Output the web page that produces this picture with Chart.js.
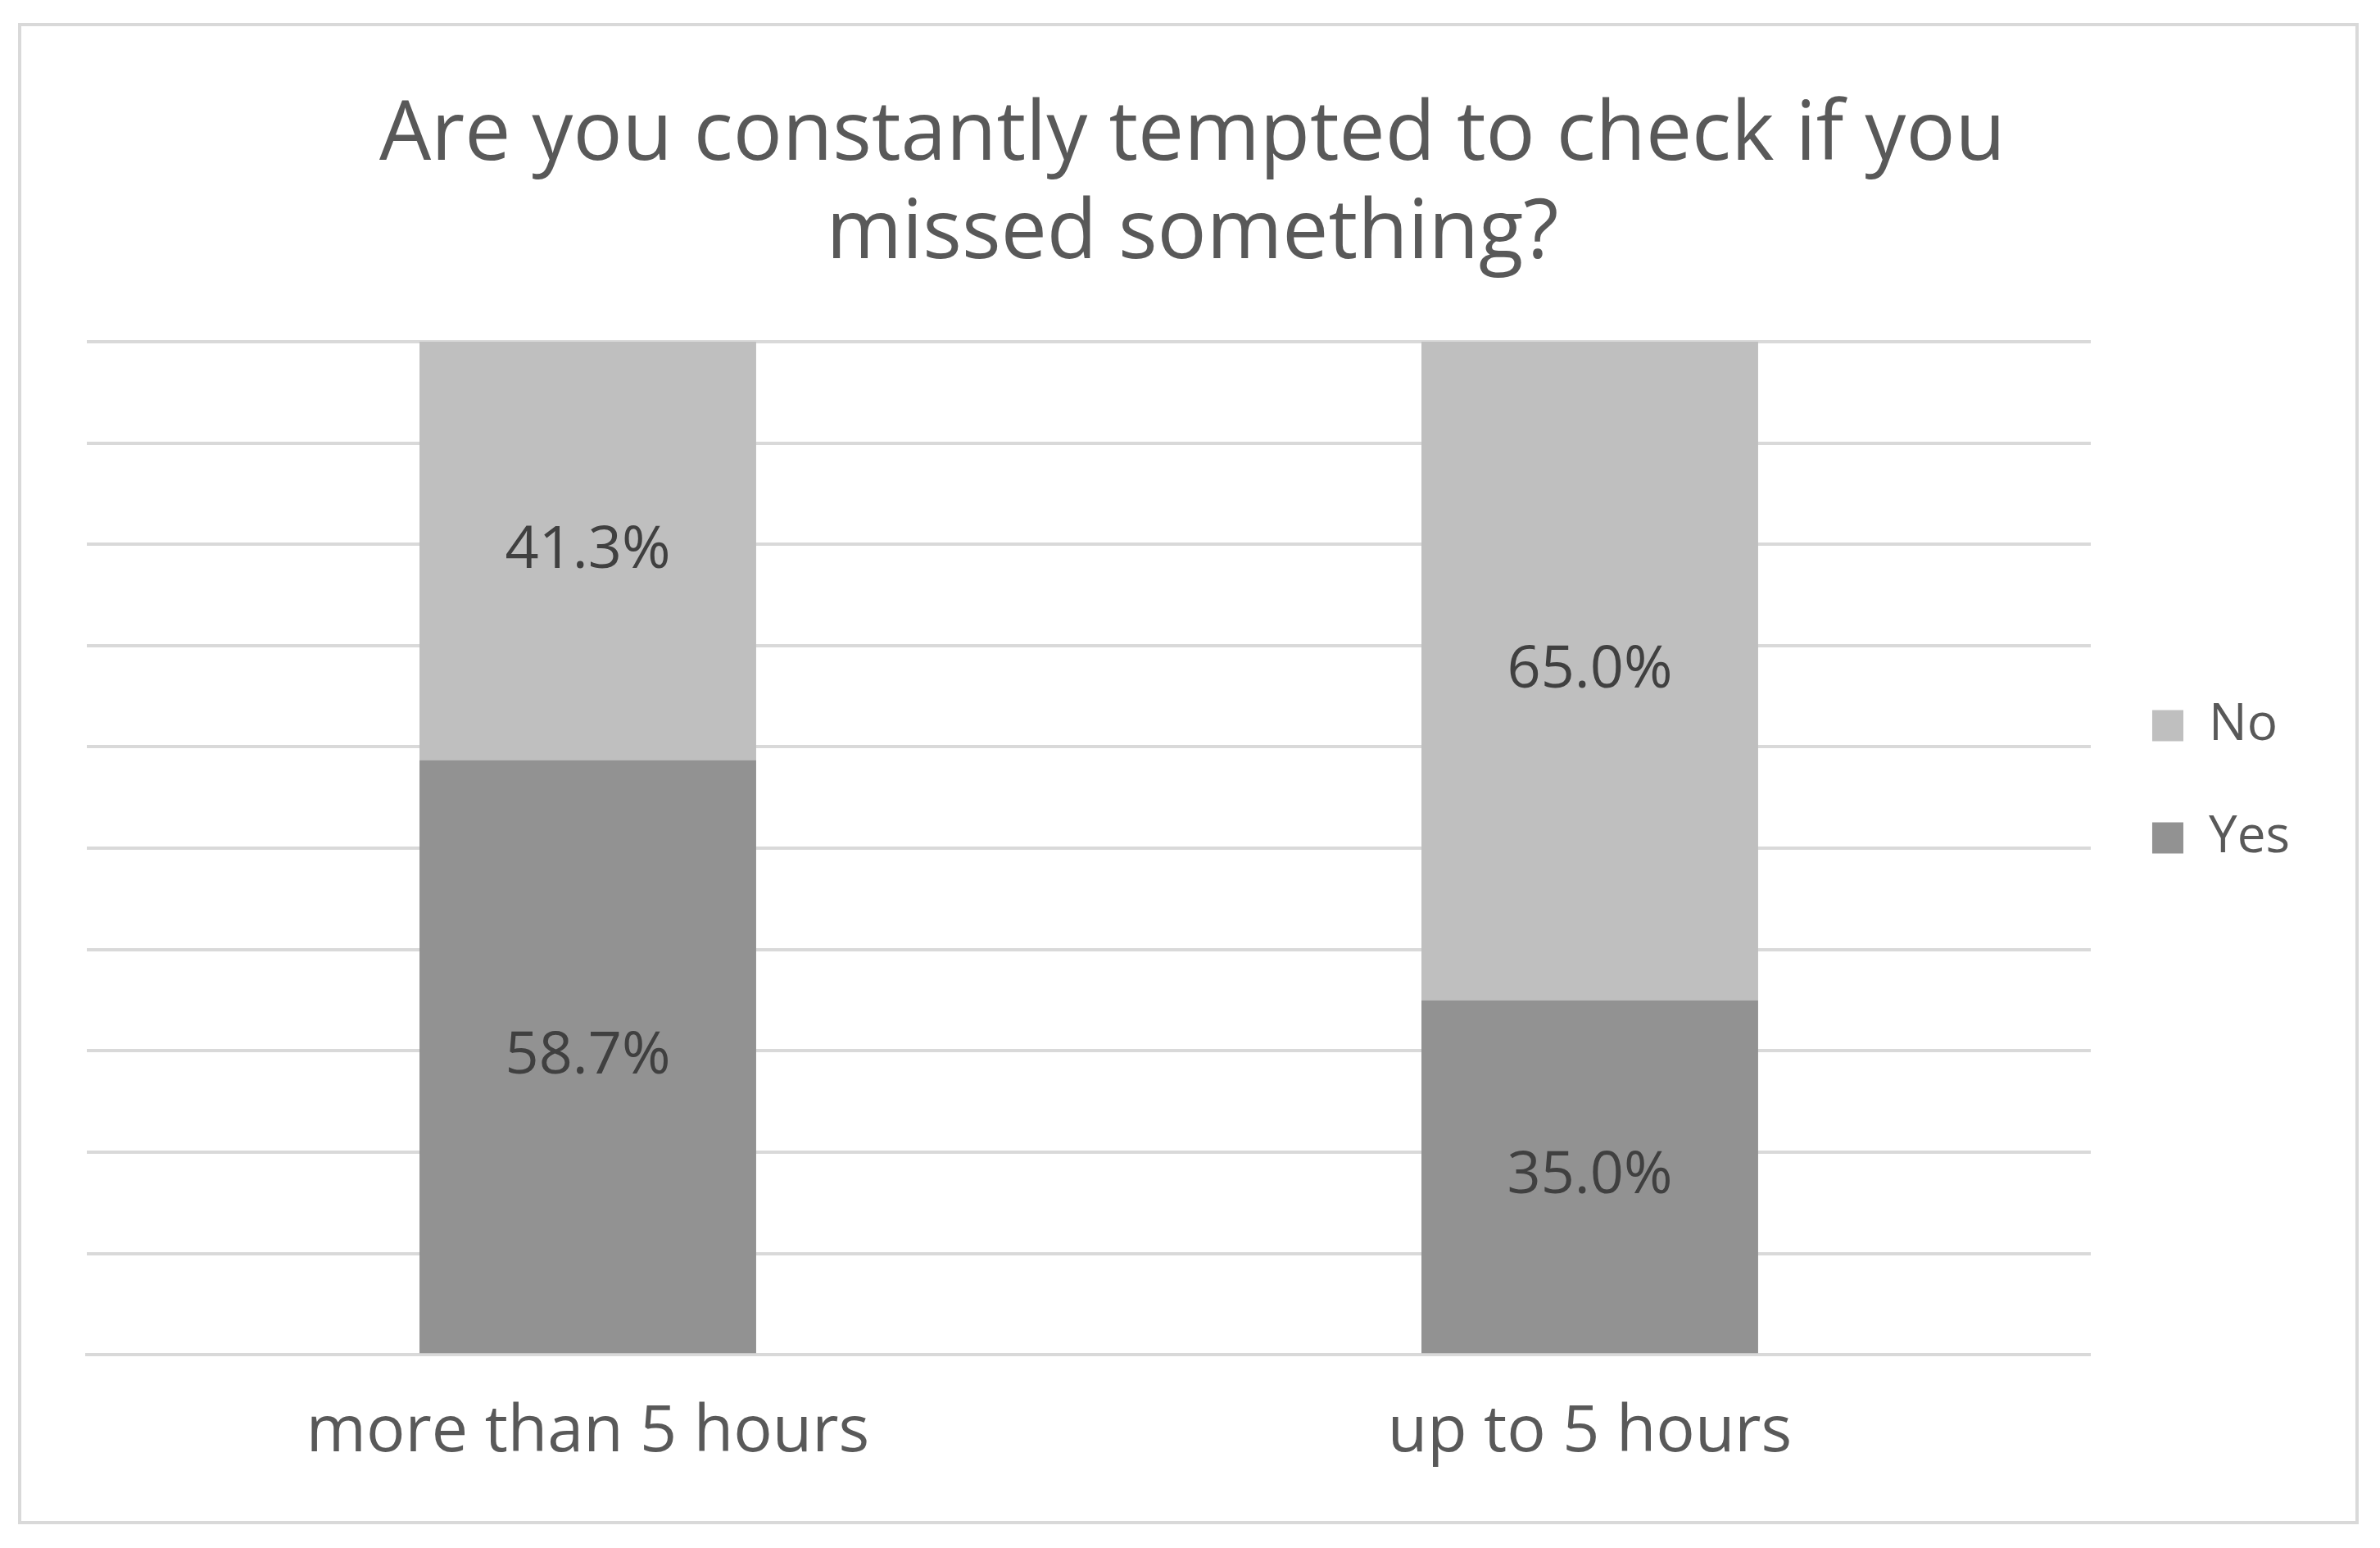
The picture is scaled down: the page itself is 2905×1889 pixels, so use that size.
<!DOCTYPE html>
<html>
<head>
<script src="https://cdn.jsdelivr.net/npm/chart.js@4"></script>
<style>
  html, body { margin: 0; padding: 0; background: #fff; }
  #wrap { position: absolute; left: 22px; top: 28px; width: 2857px; height: 1832px; border: 4px solid #d9d9d9; box-sizing: border-box; }
  canvas { position: absolute; left: 0; top: 0; }
</style>
</head>
<body>
<div id="wrap"><canvas id="chart" width="2849" height="1824"></canvas></div>
<script>
const categories = ["more than 5 hours", "up to 5 hours"];
const yesValues = [58.7, 35.0];
const noValues = [41.3, 65.0];

// draws the percentage inside each bar segment
const barLabels = {
  id: "barLabels",
  afterDatasetsDraw(chart) {
    const ctx = chart.ctx;
    ctx.save();
    ctx.font = "72px 'Open Sans', sans-serif";
    ctx.fillStyle = "#404040";
    ctx.textAlign = "center";
    ctx.textBaseline = "middle";
    chart.data.datasets.forEach((ds, i) => {
      chart.getDatasetMeta(i).data.forEach((bar, j) => {
        const mid = (bar.y + bar.base) / 2;
        ctx.fillText(ds.data[j].toFixed(1) + "%", bar.x, mid);
      });
    });
    ctx.restore();
  },
};

new Chart(document.getElementById("chart"), {
  type: "bar",
  data: {
    labels: categories,
    datasets: [
      { label: "Yes", data: yesValues, backgroundColor: "#929292", categoryPercentage: 1, barPercentage: 0.336 },
      { label: "No", data: noValues, backgroundColor: "#bfbfbf", categoryPercentage: 1, barPercentage: 0.336 },
    ],
  },
  options: {
    responsive: false,
    animation: false,
    devicePixelRatio: 1,
    layout: { padding: { left: 80, right: 70, top: 40, bottom: 20 } },
    plugins: {
      title: {
        display: true,
        text: ["Are you constantly tempted to check if you", "missed something?"],
        color: "#595959",
        font: { family: "'Open Sans', sans-serif", size: 100, weight: "normal" },
        lineHeight: 1.35,
        padding: { top: 35, bottom: 70 },
      },
      legend: {
        position: "right",
        reverse: true,
        labels: {
          color: "#595959",
          font: { family: "'Open Sans', sans-serif", size: 62 },
          boxWidth: 38,
          boxHeight: 38,
          padding: 75,
        },
      },
      tooltip: { enabled: false },
    },
    scales: {
      x: {
        stacked: true,
        grid: { display: false },
        border: { color: "#d9d9d9", width: 4 },
        ticks: { color: "#595959", font: { family: "'Open Sans', sans-serif", size: 79 }, padding: 40 },
      },
      y: {
        stacked: true,
        min: 0,
        max: 100,
        ticks: { display: false, stepSize: 10 },
        grid: { color: "#d9d9d9", lineWidth: 4, drawTicks: false },
        border: { display: false },
      },
    },
  },
  plugins: [barLabels],
});
</script>
</body>
</html>
